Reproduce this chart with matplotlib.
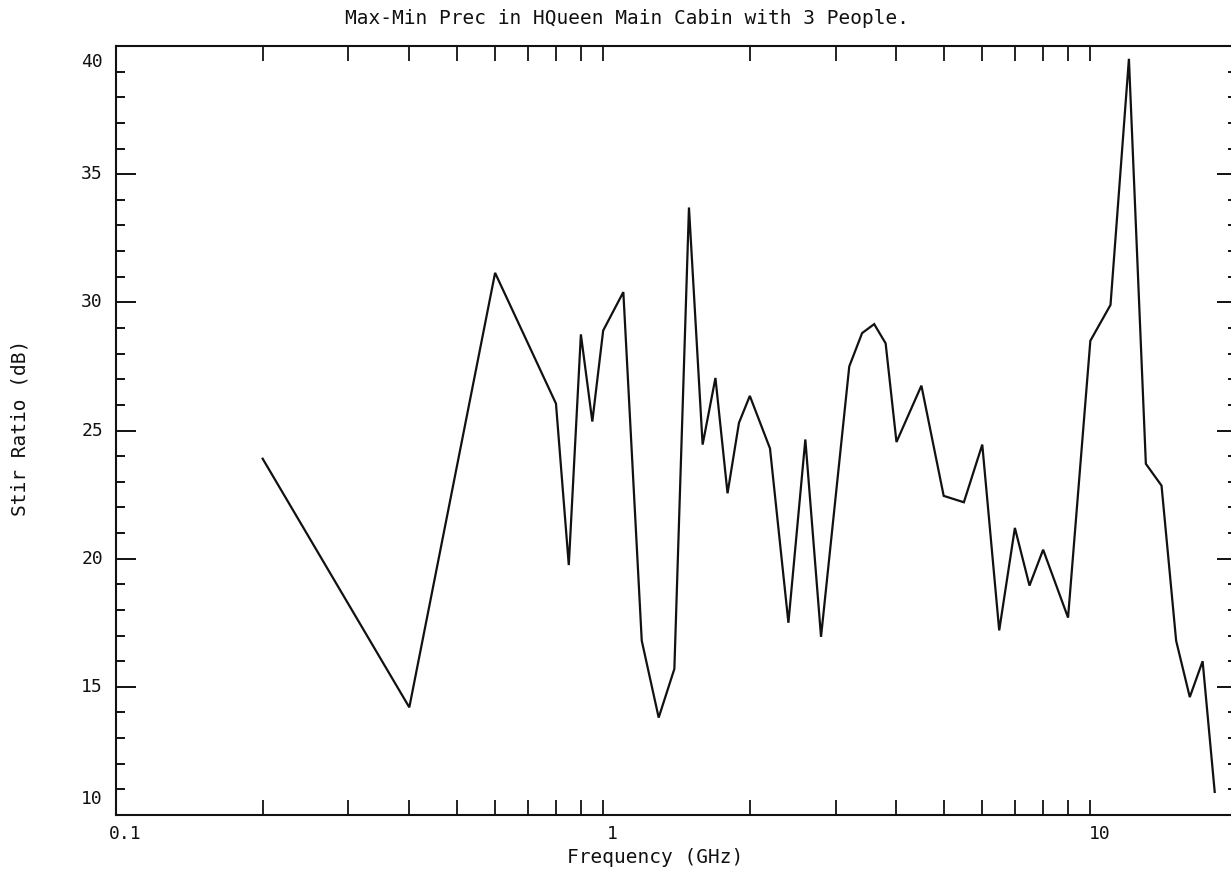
import matplotlib
matplotlib.use("Agg")
import matplotlib.pyplot as plt
from matplotlib.ticker import FixedLocator, NullFormatter
from matplotlib.transforms import ScaledTranslation

# Stir ratio (max-min received power) versus frequency
freq_ghz = [0.2, 0.4, 0.6, 0.8, 0.85, 0.9, 0.95, 1.0, 1.1, 1.2, 1.3, 1.4, 1.5,
            1.6, 1.7, 1.8, 1.9, 2.0, 2.2, 2.4, 2.6, 2.8, 3.2, 3.4, 3.6, 3.8,
            4.0, 4.5, 5.0, 5.5, 6.0, 6.5, 7.0, 7.5, 8.0, 9.0, 10, 11, 12, 13,
            14, 15, 16, 17, 18]
stir_ratio_db = [23.9, 14.2, 31.15, 26.05, 19.75, 28.75, 25.35, 28.9, 30.4,
                 16.8, 13.8, 15.7, 33.7, 24.45, 27.05, 22.55, 25.3, 26.35,
                 24.3, 17.5, 24.65, 16.95, 27.5, 28.8, 29.15, 28.4, 24.55,
                 26.75, 22.45, 22.2, 24.45, 17.2, 21.2, 18.95, 20.35, 17.7,
                 28.5, 29.9, 39.5, 23.7, 22.85, 16.8, 14.6, 16.0, 10.9]

x_major = [0.1, 1, 10]
x_major_labels = ["0.1", "1", "10"]
x_minor = [0.2, 0.3, 0.4, 0.5, 0.6, 0.7, 0.8, 0.9, 2, 3, 4, 5, 6, 7, 8, 9]
y_major = [10, 15, 20, 25, 30, 35, 40]
y_major_labels = ["10", "15", "20", "25", "30", "35", "40"]
y_minor = list(range(10, 41))

title = "Max-Min Prec in HQueen Main Cabin with 3 People."
x_title = "Frequency (GHz)"
y_title = "Stir Ratio (dB)"

W, H = 1231, 872
DPI = 100
FONT = "DejaVu Sans Mono"
INK = "#111111"

fig = plt.figure(figsize=(W / DPI, H / DPI), dpi=DPI)
fig.patch.set_facecolor("white")

# plot frame in pixel terms: left 116, right 1237 (runs past the page edge), top 46, bottom 815
ax = fig.add_axes([116 / W, (H - 815) / H, (1237 - 116) / W, (815 - 46) / H])
ax.set_xscale("log")
ax.set_xlim(0.1, 20)
ax.set_ylim(10, 40)
ax.set_facecolor("white")

ax.plot(freq_ghz, stir_ratio_db, color=INK, lw=1.6, solid_joinstyle="miter")

for sp in ax.spines.values():
    sp.set_linewidth(1.5)
    sp.set_color(INK)

ax.xaxis.set_major_locator(FixedLocator(x_major))
ax.xaxis.set_minor_locator(FixedLocator(x_minor))
ax.xaxis.set_major_formatter(NullFormatter())
ax.xaxis.set_minor_formatter(NullFormatter())
ax.yaxis.set_major_locator(FixedLocator(y_major))
ax.yaxis.set_minor_locator(FixedLocator(y_minor))
ax.yaxis.set_major_formatter(NullFormatter())
ax.yaxis.set_minor_formatter(NullFormatter())

ax.tick_params(axis="x", which="both", direction="in", length=11, width=1.3,
               color=INK, top=True, bottom=True)
ax.tick_params(axis="y", which="major", direction="in", length=14.5, width=1.4,
               color=INK, left=True, right=True)
ax.tick_params(axis="y", which="minor", direction="in", length=6.5, width=1.4,
               color=INK, left=True, right=True)

def px(dx, dy):
    return ScaledTranslation(dx / DPI, dy / DPI, fig.dpi_scale_trans)

# x tick labels, set slightly right of their ticks
for v, s in zip(x_major, x_major_labels):
    ax.text(v, 0, s, transform=ax.get_xaxis_transform() + px(9, -19),
            ha="center", va="center", fontsize=13, family=FONT, color=INK)

# y tick labels; the end labels sit inside the range
y_shift = {40: -16, 10: 16}
for v, s in zip(y_major, y_major_labels):
    ax.text(0, v, s, transform=ax.get_yaxis_transform() + px(-13, y_shift.get(v, 0)),
            ha="right", va="center", fontsize=13, family=FONT, color=INK)

fig.text(627 / W, 1 - 18 / H, title, ha="center", va="center",
         fontsize=14, family=FONT, color=INK)
fig.text(655 / W, 1 - 857 / H, x_title, ha="center", va="center",
         fontsize=14, family=FONT, color=INK)
fig.text(20 / W, 1 - 428 / H, y_title, ha="center", va="center", rotation=90,
         fontsize=14, family=FONT, color=INK)

fig.savefig("out.png", dpi=DPI, facecolor="white")
